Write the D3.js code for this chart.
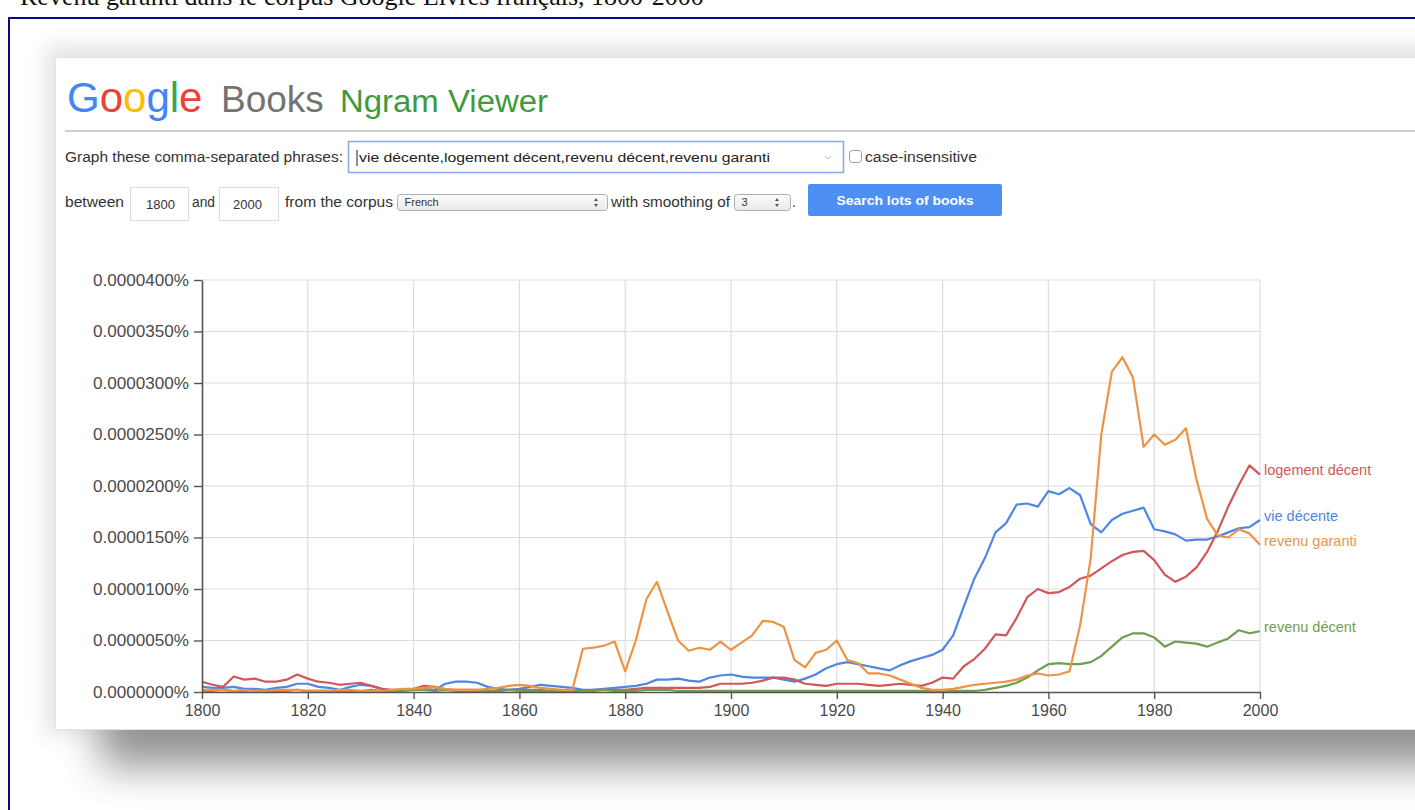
<!DOCTYPE html>
<html>
<head>
<meta charset="utf-8">
<script src="https://cdn.jsdelivr.net/npm/d3@7"></script>
<style>
  body { margin: 0; background: #fff; overflow: hidden; }
  svg { display: block; font-family: "Liberation Sans", Arial, sans-serif; }
</style>
</head>
<body>
<svg id="chart" width="1415" height="810"></svg>
<script>
// years sampled every 2 years, values in millionths of a percent (40 = 0.0000400%)
const years = d3.range(1800, 2001, 2);

const vieDecente = [
  0.5,0.4,0.4,0.5,0.3,0.3,0.2,0.4,0.5,0.8,
  0.8,0.5,0.4,0.2,0.5,0.7,0.6,0.3,0.1,0.2,
  0.2,0.3,0.2,0.8,1.0,1.0,0.9,0.5,0.3,0.2,
  0.3,0.5,0.7,0.6,0.5,0.4,0.2,0.2,0.3,0.4,
  0.5,0.6,0.8,1.2,1.2,1.3,1.1,1.0,1.4,1.6,
  1.7,1.5,1.4,1.4,1.4,1.2,1.0,1.3,1.7,2.3,
  2.7,2.9,2.7,2.5,2.3,2.1,2.6,3.0,3.3,3.6,
  4.1,5.5,8.3,11.0,13.0,15.5,16.4,18.2,18.3,18.0,
  19.5,19.2,19.8,19.1,16.3,15.5,16.7,17.3,17.6,17.9,
  15.8,15.6,15.3,14.7,14.8,14.8,15.1,15.5,15.9,16.0,
  16.7
];
const logementDecent = [
  1.0,0.7,0.5,1.5,1.2,1.3,1.0,1.0,1.2,1.7,
  1.3,1.0,0.9,0.7,0.8,0.9,0.6,0.3,0.2,0.2,
  0.3,0.6,0.5,0.2,0.2,0.2,0.2,0.1,0.1,0.2,
  0.2,0.2,0.2,0.1,0.1,0.1,0.1,0.2,0.2,0.2,
  0.2,0.3,0.4,0.4,0.4,0.4,0.4,0.4,0.5,0.8,
  0.8,0.8,0.9,1.1,1.4,1.4,1.2,0.8,0.7,0.6,
  0.8,0.8,0.8,0.7,0.6,0.7,0.8,0.7,0.6,0.9,
  1.4,1.3,2.5,3.2,4.2,5.6,5.5,7.2,9.2,10.0,
  9.6,9.7,10.2,11.0,11.3,12.0,12.7,13.3,13.6,13.7,
  12.8,11.4,10.7,11.2,12.1,13.6,15.6,18.0,20.1,22.0,
  21.1
];
const revenuDecent = [
  0.1,0.1,0.2,0.1,0.1,0.2,0.1,0.1,0.1,0.2,
  0.1,0.1,0.1,0.1,0.1,0.1,0.2,0.1,0.1,0.1,
  0.2,0.2,0.1,0.2,0.1,0.1,0.1,0.1,0.1,0.2,
  0.1,0.1,0.1,0.1,0.1,0.1,0.1,0.1,0.2,0.1,
  0.1,0.1,0.2,0.2,0.2,0.1,0.1,0.1,0.1,0.1,
  0.1,0.1,0.1,0.1,0.1,0.1,0.1,0.1,0.1,0.1,
  0.1,0.1,0.1,0.1,0.1,0.1,0.1,0.1,0.1,0.1,
  0.1,0.1,0.1,0.1,0.2,0.4,0.6,0.9,1.4,2.1,
  2.7,2.8,2.7,2.7,2.9,3.5,4.4,5.3,5.7,5.7,
  5.3,4.4,4.9,4.8,4.7,4.4,4.8,5.2,6.0,5.7,
  5.9
];
const revenuGaranti = [
  0.2,0.2,0.2,0.1,0.2,0.1,0.1,0.2,0.2,0.2,
  0.1,0.1,0.1,0.2,0.2,0.1,0.1,0.1,0.2,0.3,
  0.3,0.4,0.5,0.3,0.2,0.2,0.2,0.3,0.4,0.6,
  0.7,0.6,0.4,0.3,0.2,0.2,4.2,4.3,4.5,4.9,
  2.0,5.0,9.0,10.7,7.8,5.0,4.0,4.3,4.1,4.9,
  4.1,4.8,5.5,6.9,6.8,6.3,3.1,2.4,3.8,4.1,
  5.0,3.1,2.8,1.8,1.8,1.6,1.2,0.8,0.4,0.2,
  0.2,0.3,0.5,0.7,0.8,0.9,1.0,1.2,1.6,1.8,
  1.6,1.7,2.0,6.5,13.0,25.0,31.1,32.5,30.5,23.8,
  25.0,24.0,24.5,25.6,20.6,16.8,15.2,15.0,15.8,15.4,
  14.3
];

const seriesNames = ["vie décente", "logement décent", "revenu décent", "revenu garanti"];
const seriesColors = ["#4f86e6", "#d05858", "#6f9e52", "#ee9346"];
const seriesValues = [vieDecente, logementDecent, revenuDecent, revenuGaranti];

const xTicks = [1800, 1820, 1840, 1860, 1880, 1900, 1920, 1940, 1960, 1980, 2000];
const yTicks = [0, 5, 10, 15, 20, 25, 30, 35, 40];

const svg = d3.select("#chart");
const defs = svg.append("defs");

defs.append("filter").attr("id", "blurBig")
  .attr("x", "-20%").attr("y", "-80%").attr("width", "140%").attr("height", "260%")
  .append("feGaussianBlur").attr("stdDeviation", 20);
defs.append("filter").attr("id", "blurSoft")
  .attr("x", "-10%").attr("y", "-20%").attr("width", "120%").attr("height", "140%")
  .append("feGaussianBlur").attr("stdDeviation", 10);

let grad = defs.append("linearGradient").attr("id", "selGrad")
  .attr("x1", 0).attr("y1", 0).attr("x2", 0).attr("y2", 1);
grad.append("stop").attr("offset", "0%").attr("stop-color", "#fdfdfd");
grad.append("stop").attr("offset", "100%").attr("stop-color", "#e9e9e9");

// caption cut at the top of the page
svg.append("text")
  .attr("x", 20).attr("y", 5)
  .style("font-family", "'Liberation Serif', 'Times New Roman', serif")
  .style("font-size", "26px")
  .attr("fill", "#111")
  .text("Revenu garanti dans le corpus Google Livres français, 1800-2000");

// navy frame
svg.append("rect")
  .attr("x", 9).attr("y", 18).attr("width", 1450).attr("height", 830)
  .attr("fill", "none").attr("stroke", "#0a0a80").attr("stroke-width", 2);

// shadows round the screenshot card
svg.append("rect")
  .attr("x", 45).attr("y", 45).attr("width", 1420).attr("height", 690)
  .attr("fill", "#000").attr("opacity", 0.10)
  .attr("filter", "url(#blurSoft)");
svg.append("rect")
  .attr("x", 100).attr("y", 705).attr("width", 1400).attr("height", 62)
  .attr("fill", "#000").attr("opacity", 0.42)
  .attr("filter", "url(#blurBig)");

// card
svg.append("rect")
  .attr("x", 55.5).attr("y", 57.5).attr("width", 1400).attr("height", 672)
  .attr("fill", "#fff").attr("stroke", "#e4e4e4");

// header
let logo = svg.append("text").attr("x", 67).attr("y", 112)
  .style("font-size", "42px");
const logoLetters = [["G", "#4285f4"], ["o", "#ea4335"], ["o", "#fbbc05"], ["g", "#4285f4"], ["l", "#34a853"], ["e", "#ea4335"]];
logoLetters.forEach(l => logo.append("tspan").attr("fill", l[1]).text(l[0]));

svg.append("text").attr("x", 221).attr("y", 112)
  .style("font-size", "37px").attr("fill", "#737373").text("Books");
svg.append("text").attr("x", 340).attr("y", 112)
  .style("font-size", "31px").attr("fill", "#3f9a3c")
  .attr("textLength", 208).attr("lengthAdjust", "spacingAndGlyphs")
  .text("Ngram Viewer");

svg.append("line")
  .attr("x1", 65).attr("x2", 1415).attr("y1", 131).attr("y2", 131)
  .attr("stroke", "#cfcfcf").attr("stroke-width", 2);

// form controls
let label = (x, y, txt, len, size, color) => {
  let t = svg.append("text").attr("x", x).attr("y", y)
    .style("font-size", (size || 14) + "px")
    .attr("fill", color || "#333").text(txt);
  if (len) t.attr("textLength", len).attr("lengthAdjust", "spacingAndGlyphs");
  return t;
};

label(65, 162, "Graph these comma-separated phrases:", 278);
svg.append("rect")
  .attr("x", 348.5).attr("y", 141.5).attr("width", 495).attr("height", 31)
  .attr("fill", "#fff").attr("stroke", "#86aae6").attr("stroke-width", 1.5);
svg.append("line")
  .attr("x1", 357).attr("x2", 357).attr("y1", 150).attr("y2", 166)
  .attr("stroke", "#222");
label(359, 162, "vie décente,logement décent,revenu décent,revenu garanti", 411, 13, "#222");
svg.append("path")
  .attr("d", "M825,156 L828,159 L831,156")
  .attr("fill", "none").attr("stroke", "#b8b8b8").attr("stroke-width", 1);
svg.append("rect")
  .attr("x", 849.5).attr("y", 150.5).attr("width", 12).attr("height", 12).attr("rx", 3)
  .attr("fill", "#fff").attr("stroke", "#9a9a9a");
label(865, 162, "case-insensitive", 112);

label(65, 207, "between", 59);
svg.append("rect").attr("x", 130.5).attr("y", 187.5).attr("width", 58).attr("height", 33)
  .attr("fill", "#fff").attr("stroke", "#dcdcdc");
label(146, 209, "1800", 29, 13);
label(192, 207, "and", 23);
svg.append("rect").attr("x", 219.5).attr("y", 187.5).attr("width", 59).attr("height", 33)
  .attr("fill", "#fff").attr("stroke", "#dcdcdc");
label(233, 209, "2000", 29, 13);
label(285, 207, "from the corpus", 108);

let select = (x, w, txt, arrowX) => {
  svg.append("rect").attr("x", x).attr("y", 194.5).attr("width", w).attr("height", 16).attr("rx", 3)
    .attr("fill", "url(#selGrad)").attr("stroke", "#b0b0b0");
  label(x + 7, 206, txt, null, 11, "#333");
  svg.append("path")
    .attr("d", `M${arrowX - 2},201 L${arrowX},198 L${arrowX + 2},201 Z M${arrowX - 2},204 L${arrowX},207 L${arrowX + 2},204 Z`)
    .attr("fill", "#555");
};
select(397.5, 210, "French", 596);
label(611, 207, "with smoothing of", 119);
select(734.5, 56, "3", 777);
label(792, 207, ".", null, 14);

svg.append("rect").attr("x", 808).attr("y", 184).attr("width", 194).attr("height", 32).attr("rx", 2)
  .attr("fill", "#4d8ff3");
svg.append("text").attr("x", 905).attr("y", 205).attr("text-anchor", "middle")
  .style("font-size", "13px").style("font-weight", "bold").attr("fill", "#fff")
  .attr("textLength", 137).attr("lengthAdjust", "spacingAndGlyphs")
  .text("Search lots of books");

// chart
const x = d3.scaleLinear().domain([1800, 2000]).range([202, 1260]);
const y = d3.scaleLinear().domain([0, 40]).range([692, 280]);

let grid = svg.append("g");
grid.selectAll(".vg").data(xTicks.slice(1)).enter().append("line")
  .attr("x1", d => x(d)).attr("x2", d => x(d))
  .attr("y1", y(40)).attr("y2", y(0))
  .attr("stroke", "#dedede").attr("stroke-width", 1.2);
grid.selectAll(".hg").data(yTicks.slice(1)).enter().append("line")
  .attr("x1", x(1800)).attr("x2", x(2000))
  .attr("y1", d => y(d)).attr("y2", d => y(d))
  .attr("stroke", "#dedede").attr("stroke-width", 1.2);

let line = d3.line()
  .x((d, i) => x(years[i]))
  .y(d => y(d));

seriesValues.forEach((vals, k) => {
  svg.append("path")
    .datum(vals)
    .attr("d", line)
    .attr("fill", "none")
    .attr("stroke", seriesColors[k])
    .attr("stroke-width", 2.2)
    .attr("stroke-linejoin", "round");
});

let yAxis = svg.append("g")
  .attr("transform", `translate(${x(1800)},0)`)
  .call(d3.axisLeft(y).tickValues(yTicks).tickSize(8).tickSizeOuter(0).tickPadding(5)
    .tickFormat(d => (d / 1e6).toFixed(7) + "%"));
let xAxis = svg.append("g")
  .attr("transform", `translate(0,${y(0)})`)
  .call(d3.axisBottom(x).tickValues(xTicks).tickSize(7).tickSizeOuter(0).tickPadding(6)
    .tickFormat(d3.format("d")));

[yAxis, xAxis].forEach(a => {
  a.select(".domain").attr("stroke", "#555").attr("stroke-width", 1.6);
  a.selectAll(".tick line").attr("stroke", "#555").attr("stroke-width", 1.4);
  a.selectAll(".tick text")
    .style("font-family", "'Liberation Sans', Arial, sans-serif")
    .style("font-size", "16px").attr("fill", "#4a4a4a");
});
yAxis.selectAll(".tick text").attr("textLength", 96).attr("lengthAdjust", "spacingAndGlyphs");

// series labels at the right end
seriesValues.forEach((vals, k) => {
  svg.append("text")
    .attr("x", x(2000) + 4)
    .attr("y", y(vals[vals.length - 1]) - 3)
    .attr("dominant-baseline", "middle")
    .style("font-size", "14.5px")
    .attr("fill", seriesColors[k])
    .text(seriesNames[k]);
});
</script>
</body>
</html>
